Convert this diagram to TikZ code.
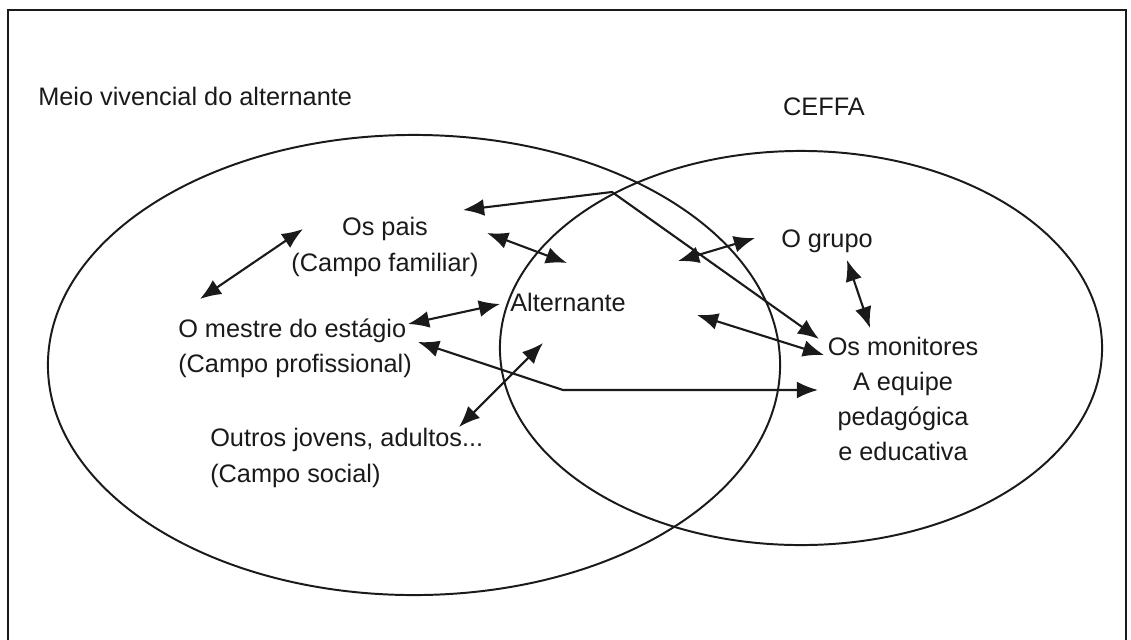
\documentclass[tikz,border=0pt]{standalone}
\usepackage{fontspec}
\setmainfont{Liberation Sans}
\usepackage{tikz}
\usetikzlibrary{arrows.meta}
\definecolor{ink_black}{HTML}{1a1a1a}

\begin{document}
\begin{tikzpicture}[x=0.025cm, y=-0.025cm, every node/.style={font=\fontsize{18}{25}\selectfont, inner sep=0pt, text=ink_black},
    link/.style={{Latex[length=15pt,width=12pt]}-{Latex[length=15pt,width=12pt]}, line width=1.5pt, ink_black}]

    % Fix the page and draw the open frame
    \useasboundingbox (0,0) rectangle (1131,639);
    \draw[line width=1.5pt, ink_black] (8,650) -- (8,10) -- (1126,10) -- (1126,650);

    % Draw the two overlapping fields
    \draw[line width=1.4pt, ink_black] (414,365) ellipse [x radius=9.15cm, y radius=5.75cm];
    \draw[line width=1.4pt, ink_black] (801,348) ellipse [x radius=7.525cm, y radius=4.925cm];

    % Titles of the two fields
    \node (meio) [anchor=west] at (38,96) {Meio vivencial do alternante};
    \node (ceffa) at (824,107) {CEFFA};

    % The actors
    \node (pais) [align=center] at (385,247) {Os pais\\(Campo familiar)};
    \node (alt) at (568,302) {Alternante};
    \node (mestre) [align=left, anchor=west] at (178,348) {O mestre do estágio\\(Campo profissional)};
    \node (outros) [align=left, anchor=west] at (210,458) {Outros jovens, adultos...\\(Campo social)};
    \node (grupo) at (827,241) {O grupo};
    \node (monit) [align=center] at (903,399) {Os monitores\\A equipe\\pedagógica\\e educativa};

    % Arrow ends
    \coordinate (paisNW) at (303,229);
    \coordinate (mestreNW) at (200,299);
    \coordinate (paisE) at (487,233);
    \coordinate (altNW) at (567,263);
    \coordinate (mestreE) at (408,324);
    \coordinate (altW) at (500,304);
    \coordinate (mestreSE) at (418,342);
    \coordinate (bendS) at (563,390);
    \coordinate (monitW) at (818,390);
    \coordinate (outrosNE) at (459,427);
    \coordinate (altSW) at (543,343);
    \coordinate (paisNE) at (463,210);
    \coordinate (bendN) at (612,192);
    \coordinate (monitNW) at (819,339);
    \coordinate (altNE) at (678,261);
    \coordinate (grupoW) at (755,238);
    \coordinate (grupoS) at (847,260);
    \coordinate (monitN) at (870,328);
    \coordinate (altE) at (697,315);
    \coordinate (monitWW) at (824,355);

    % Links inside the living environment
    \draw[link] (mestreNW) -- (paisNW);
    \draw[link] (paisE) -- (altNW);
    \draw[link] (mestreE) -- (altW);
    \draw[link] (outrosNE) -- (altSW);

    % Links towards the CEFFA
    \draw[link] (mestreSE) -- (bendS) -- (monitW);
    \draw[link] (paisNE) -- (bendN) -- (monitNW);
    \draw[link] (altNE) -- (grupoW);
    \draw[link] (grupoS) -- (monitN);
    \draw[link] (altE) -- (monitWW);

\end{tikzpicture}
\end{document}
